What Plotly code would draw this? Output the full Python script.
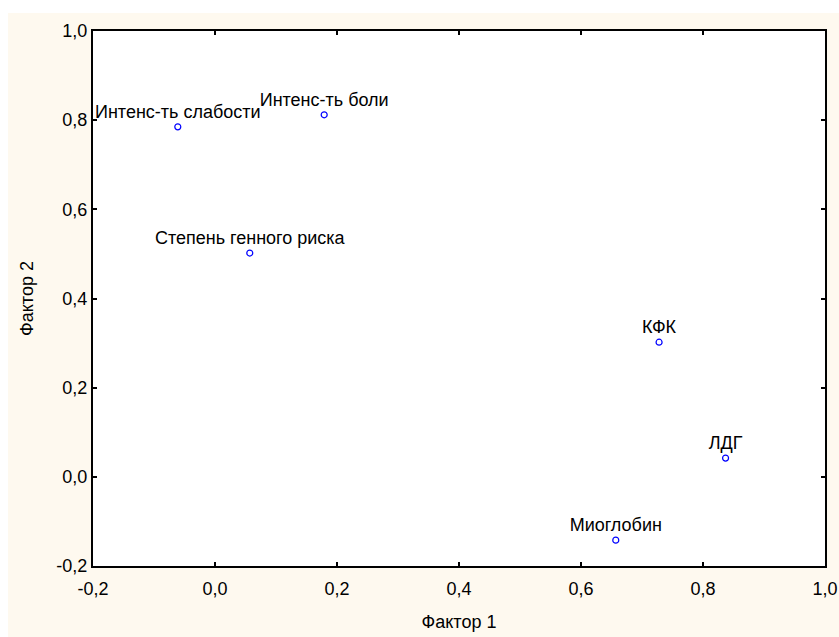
import plotly.graph_objects as go

labels = ["Интенс-ть слабости", "Интенс-ть боли", "Степень генного риска", "КФК", "ЛДГ", "Миоглобин"]
factor1 = [-0.061, 0.179, 0.057, 0.728, 0.837, 0.657]
factor2 = [0.785, 0.812, 0.502, 0.302, 0.042, -0.142]

tick_vals = [-0.2, 0.0, 0.2, 0.4, 0.6, 0.8, 1.0]
tick_text = ["-0,2", "0,0", "0,2", "0,4", "0,6", "0,8", "1,0"]

FONT = "Arial, Liberation Sans, sans-serif"
CREAM = "#FEF9EF"
FS = 18

fig = go.Figure()
fig.add_trace(go.Scatter(
    x=factor1, y=factor2, mode="markers+text", text=labels,
    textposition="top center",
    textfont=dict(family=FONT, size=FS, color="black"),
    marker=dict(symbol="circle-open", size=6, color="#0000FF", line=dict(width=1.2, color="#0000FF")),
    cliponaxis=False, showlegend=False,
))

axis_common = dict(
    tickvals=tick_vals, ticktext=tick_text,
    showgrid=False, zeroline=False, automargin=False,
    showline=True, linecolor="black", linewidth=2, mirror="ticks",
    ticks="inside", ticklen=4, tickwidth=1.5, tickcolor="black",
    tickfont=dict(family=FONT, size=FS, color="black"),
)

fig.update_xaxes(range=[-0.2, 1.0], ticklabelstandoff=5,
                 title=dict(text="Фактор 1", standoff=18,
                            font=dict(family=FONT, size=FS, color="black")), **axis_common)
fig.update_yaxes(range=[-0.2, 1.0],
                 title=dict(text="Фактор 2", standoff=18,
                            font=dict(family=FONT, size=FS, color="black")), **axis_common)

# white strips at top and left (outside the cream background)
fig.add_shape(type="rect", xref="paper", yref="paper", x0=-0.2, x1=1.1,
              y0=(566 - 13) / 535, y1=1.2, fillcolor="white", line_width=0, layer="below")
fig.add_shape(type="rect", xref="paper", yref="paper", x0=-0.2, x1=(8 - 93) / 732,
              y0=-0.3, y1=1.2, fillcolor="white", line_width=0, layer="below")

fig.update_layout(
    width=839, height=637,
    margin=dict(l=93, r=14, t=31, b=71),
    paper_bgcolor=CREAM, plot_bgcolor="white",
    font=dict(family=FONT, size=FS, color="black"),
)

fig.write_html("out.html")
